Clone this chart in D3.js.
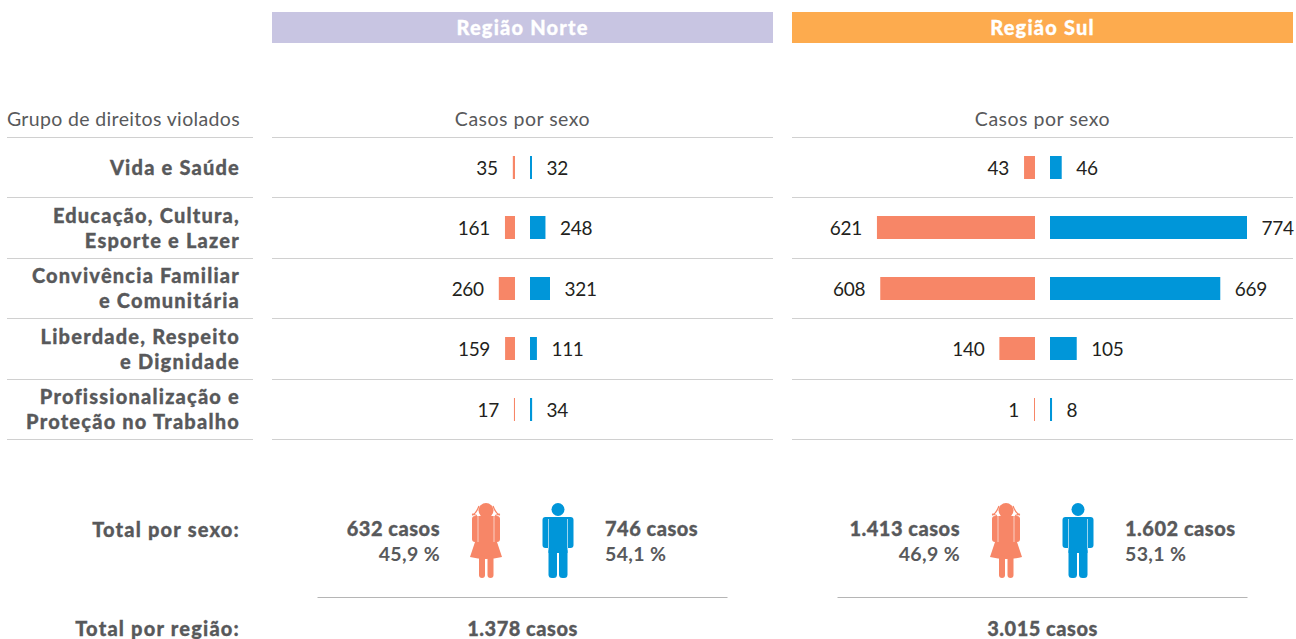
<!DOCTYPE html>
<html>
<head>
<meta charset="utf-8">
<script src="https://cdn.jsdelivr.net/npm/d3@7"></script>
<style>
  html, body { margin: 0; padding: 0; background: #fff; }
  svg { display: block; }
  text { font-family: Lato, "Open Sans", sans-serif; }
  .heavy { font-weight: 900; font-size: 20px; letter-spacing: 0.5px; fill: #58595b; stroke: #58595b; stroke-width: 0.3px; }
  .label { letter-spacing: 1.2px; }
  .plain { font-size: 19.5px; letter-spacing: 0.35px; fill: #58595b; }
  .num { font-size: 19px; letter-spacing: -0.3px; fill: #231f20; }
</style>
</head>
<body>
<div class="chart"></div>
<script>
var categories = [
  ["Vida e Saúde"],
  ["Educação, Cultura,", "Esporte e Lazer"],
  ["Convivência Familiar", "e Comunitária"],
  ["Liberdade, Respeito", "e Dignidade"],
  ["Profissionalização e", "Proteção no Trabalho"]
];
var regionNames = ["Região Norte", "Região Sul"];
var norteFem = [35, 161, 260, 159, 17];
var norteMasc = [32, 248, 321, 111, 34];
var sulFem = [43, 621, 608, 140, 1];
var sulMasc = [46, 774, 669, 105, 8];
var totalFem = ["632 casos", "1.413 casos"];
var totalMasc = ["746 casos", "1.602 casos"];
var pctFem = ["45,9 %", "46,9 %"];
var pctMasc = ["54,1 %", "53,1 %"];
var totalRegion = ["1.378 casos", "3.015 casos"];

var femColor = "#f78667", mascColor = "#0096d9", ruleColor = "#d0d0d0";

var svg = d3.select(".chart").append("svg")
  .attr("width", 1296)
  .attr("height", 639);

// row bands, one per category
var yScale = d3.scaleBand().domain(d3.range(categories.length)).range([137, 439.5]);

var panels = [
  { left: 272, right: 773, axisF: 515, axisM: 530, color: "#c8c5e2", fem: norteFem, masc: norteMasc,
    sF: d3.scaleLinear().domain([0, 321]).range([0, 20]),
    sM: d3.scaleLinear().domain([0, 321]).range([0, 20]) },
  { left: 792, right: 1293, axisF: 1035, axisM: 1050, color: "#fdab4e", fem: sulFem, masc: sulMasc,
    sF: d3.scaleLinear().domain([0, 774]).range([0, 197]),
    sM: d3.scaleLinear().domain([0, 774]).range([0, 197]) }
];

// left column
svg.append("text").text("Grupo de direitos violados").attr("class", "plain")
  .attr("x", 240).attr("y", 126).attr("text-anchor", "end");
drawRules(7, 253);

categories.forEach(function(lines, i) {
  var cy = yScale(i) + yScale.bandwidth() / 2;
  var top = lines.length == 1 ? cy + 7.5 : cy - 5;
  lines.forEach(function(line, j) {
    svg.append("text").text(line).attr("class", "heavy label")
      .attr("x", 240).attr("y", top + j * 25)
      .attr("text-anchor", "end");
  });
});

svg.append("text").text("Total por sexo:").attr("class", "heavy label")
  .attr("x", 240).attr("y", 537).attr("text-anchor", "end");
svg.append("text").text("Total por região:").attr("class", "heavy label")
  .attr("x", 240).attr("y", 636).attr("text-anchor", "end");

panels.forEach(function(p, k) {
  var mid = (p.left + p.right) / 2;

  svg.append("rect")
    .attr("x", p.left).attr("y", 12)
    .attr("width", p.right - p.left).attr("height", 31)
    .attr("fill", p.color);
  svg.append("text").text(regionNames[k]).attr("class", "heavy label")
    .attr("x", mid).attr("y", 35).attr("text-anchor", "middle")
    .style("fill", "#fff").style("stroke", "#fff");

  svg.append("text").text("Casos por sexo").attr("class", "plain")
    .attr("x", mid).attr("y", 126).attr("text-anchor", "middle")
    .style("letter-spacing", "0.5px");

  drawRules(p.left, p.right);

  var barH = 23;
  var rows = svg.append("g").selectAll("g")
    .data(categories.map(function(d, i) { return i; }))
    .join("g")
      .attr("transform", function(i) {
        return "translate(0," + Math.floor(yScale(i) + yScale.bandwidth() / 2) + ")";
      });

  rows.append("rect")
    .attr("x", function(i) { return p.axisF - Math.max(p.sF(p.fem[i]), 1); })
    .attr("y", -11)
    .attr("width", function(i) { return Math.max(p.sF(p.fem[i]), 1); })
    .attr("height", barH)
    .attr("fill", femColor);

  rows.append("rect")
    .attr("x", p.axisM)
    .attr("y", -11)
    .attr("width", function(i) { return Math.max(p.sM(p.masc[i]), 1); })
    .attr("height", barH)
    .attr("fill", mascColor);

  rows.append("text").attr("class", "num")
    .text(function(i) { return p.fem[i]; })
    .attr("x", function(i) { return p.axisF - Math.max(p.sF(p.fem[i]), 1) - 15; })
    .attr("y", 7.5)
    .attr("text-anchor", "end");

  rows.append("text").attr("class", "num")
    .text(function(i) { return p.masc[i]; })
    .attr("x", function(i) { return p.axisM + Math.max(p.sM(p.masc[i]), 1) + 14.5; })
    .attr("y", 7.5)
    .attr("text-anchor", "start");

  // totals
  var fx = p.left + 168, mx = p.left + 333;
  svg.append("text").text(totalFem[k]).attr("class", "heavy")
    .attr("x", fx).attr("y", 536).attr("text-anchor", "end");
  svg.append("text").text(pctFem[k]).attr("class", "plain")
    .attr("x", fx).attr("y", 561).attr("text-anchor", "end")
    .style("font-weight", 700);
  svg.append("text").text(totalMasc[k]).attr("class", "heavy")
    .attr("x", mx).attr("y", 536).attr("text-anchor", "start");
  svg.append("text").text(pctMasc[k]).attr("class", "plain")
    .attr("x", mx).attr("y", 561).attr("text-anchor", "start")
    .style("font-weight", 700);

  drawGirl(p.left + 214, 503);
  drawBoy(p.left + 286, 503);

  svg.append("line")
    .attr("x1", p.left + 45.5).attr("x2", p.left + 455.5)
    .attr("y1", 597.5).attr("y2", 597.5)
    .attr("stroke", "#b5b5b5");
  svg.append("text").text(totalRegion[k]).attr("class", "heavy")
    .attr("x", mid).attr("y", 636).attr("text-anchor", "middle");
});

function drawRules(x1, x2) {
  svg.append("g").selectAll("line")
    .data(d3.range(categories.length + 1))
    .join("line")
      .attr("x1", x1).attr("x2", x2)
      .attr("y1", function(i) { return Math.floor(137 + i * yScale.bandwidth()) + 0.5; })
      .attr("y2", function(i) { return Math.floor(137 + i * yScale.bandwidth()) + 0.5; })
      .attr("stroke", ruleColor);
}

// pictograms, cx is the centre and top the top of the head
function drawGirl(cx, top) {
  var g = svg.append("g").attr("transform", "translate(" + cx + "," + top + ")").attr("fill", femColor);
  g.append("circle").attr("cy", 7.5).attr("r", 7.5);
  g.append("path").attr("d", "M-7 3Q-10 11 -14 12M7 3Q10 11 14 12M-14 11L-9 12.5M14 11L9 12.5")
    .attr("fill", "none").attr("stroke", femColor).attr("stroke-width", 1.3);
  g.append("rect").attr("x", -14).attr("y", 13).attr("width", 28).attr("height", 26).attr("rx", 3);
  g.append("path").attr("d", "M-8 30L8 30L16 54Q0 58 -16 54Z");
  g.append("rect").attr("x", -7).attr("y", 52).attr("width", 6).attr("height", 23).attr("rx", 3);
  g.append("rect").attr("x", 1.5).attr("y", 52).attr("width", 6).attr("height", 23).attr("rx", 3);
  drawArmLines(g, 8, 13, 39);
}

function drawBoy(cx, top) {
  var g = svg.append("g").attr("transform", "translate(" + cx + "," + top + ")").attr("fill", mascColor);
  g.append("circle").attr("cy", 6.5).attr("r", 6.5);
  g.append("rect").attr("x", -15.5).attr("y", 14).attr("width", 31).attr("height", 31).attr("rx", 3);
  g.append("rect").attr("x", -9.5).attr("y", 30).attr("width", 19).attr("height", 20);
  g.append("rect").attr("x", -9.5).attr("y", 45).attr("width", 8.5).attr("height", 30).attr("rx", 3.5);
  g.append("rect").attr("x", 1).attr("y", 45).attr("width", 8.5).attr("height", 30).attr("rx", 3.5);
  drawArmLines(g, 9.5, 16, 45);
}

function drawArmLines(g, dx, y1, y2) {
  g.selectAll("line.arm").data([-dx, dx]).join("line")
    .attr("class", "arm")
    .attr("x1", function(d) { return d; }).attr("x2", function(d) { return d; })
    .attr("y1", y1).attr("y2", y2)
    .attr("stroke", "#fff").attr("stroke-opacity", 0.6).attr("stroke-width", 1);
}
</script>
</body>
</html>
